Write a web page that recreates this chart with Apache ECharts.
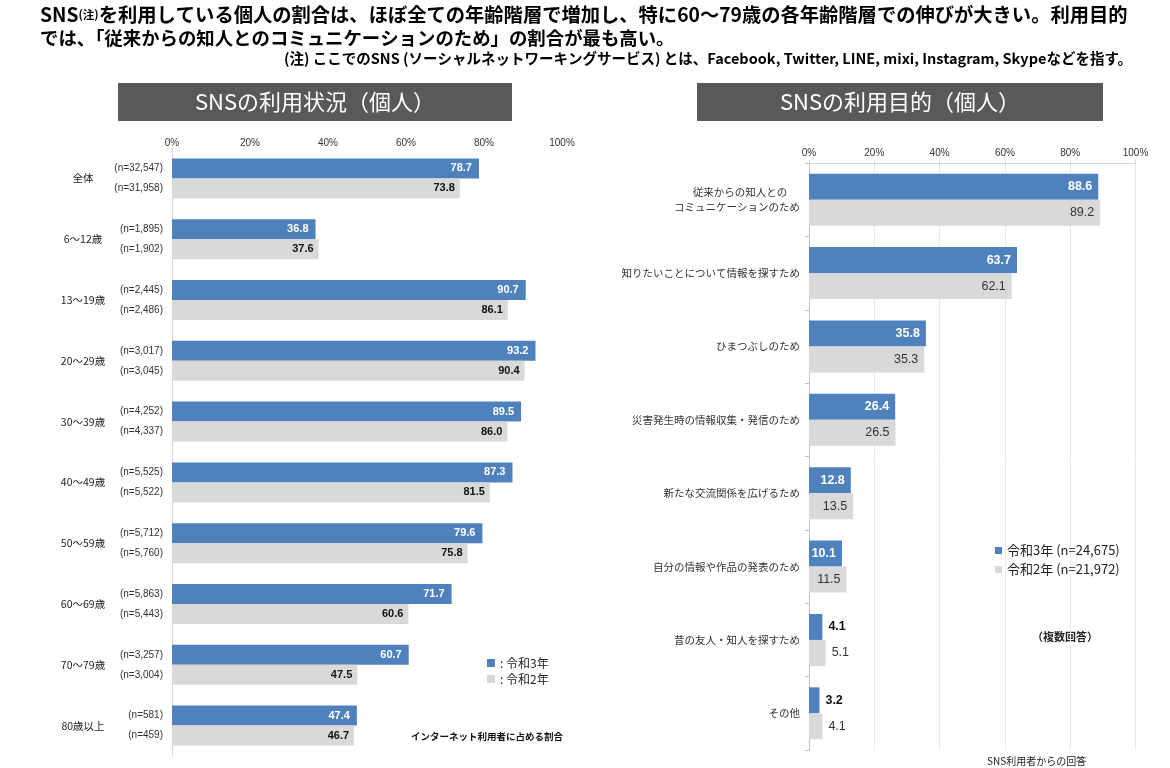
<!DOCTYPE html>
<html><head><meta charset="utf-8">
<script src="https://cdn.jsdelivr.net/npm/echarts@6/dist/echarts.min.js"></script>
<style>html,body{margin:0;padding:0;background:#fff}#c{width:1170px;height:768px}</style>
</head><body><div id="c"></div>
<script>
const ageCats = ['全体','6～12歳','13～19歳','20～29歳','30～39歳','40～49歳','50～59歳','60～69歳','70～79歳','80歳以上'];
const useR3 = [78.7,36.8,90.7,93.2,89.5,87.3,79.6,71.7,60.7,47.4];
const useR2 = [73.8,37.6,86.1,90.4,86.0,81.5,75.8,60.6,47.5,46.7];
const nR3 = ['32,547','1,895','2,445','3,017','4,252','5,525','5,712','5,863','3,257','581'];
const nR2 = ['31,958','1,902','2,486','3,045','4,337','5,522','5,760','5,443','3,004','459'];

const purposeCats = ['従来からの知人との　 \nコミュニケーションのため','知りたいことについて情報を探すため','ひまつぶしのため','災害発生時の情報収集・発信のため','新たな交流関係を広げるため','自分の情報や作品の発表のため','昔の友人・知人を探すため','その他'];
const purR3 = [88.6,63.7,35.8,26.4,12.8,10.1,4.1,3.2];
const purR2 = [89.2,62.1,35.3,26.5,13.5,11.5,5.1,4.1];
const legendN = {'令和3年':'24,675','令和2年':'21,972'};

const BLUE = '#4f81bd', GRAY = '#d9d9d9';
const JP = "'Noto Sans CJK JP', sans-serif";
const AR = "'Liberation Sans', Arial, 'Noto Sans CJK JP', sans-serif";

const chart = echarts.init(document.getElementById('c'));

const option = {
  backgroundColor: '#fff',
  animation: false,
  graphic: [
    {type:'text', left: 40, top: 5, style:{
      rich:{
        a:{fontFamily:JP, fontSize:19.3, fontWeight:'bold', fill:'#000'},
        s:{fontFamily:JP, fontSize:11.5, fontWeight:'bold', fill:'#000'}
      },
      text:'{a|SNS}{s|(注)}{a|を利用している個人の割合は、ほぼ全ての年齢階層で増加し、特に60～79歳の各年齢階層での伸びが大きい。利用目的}'
    }},
    {type:'text', left: 40, top: 29, style:{
      text:'では、「従来からの知人とのコミュニケーションのため」の割合が最も高い。',
      font:"bold 18.4px 'Noto Sans CJK JP', sans-serif", fill:'#000'
    }},
    {type:'text', right: 38, top: 51, style:{
      text:'(注) ここでのSNS (ソーシャルネットワーキングサービス) とは、Facebook, Twitter, LINE, mixi, Instagram, Skypeなどを指す。',
      font:"bold 14.5px 'Noto Sans CJK JP', sans-serif", fill:'#000'
    }},
    {type:'rect', shape:{x:118, y:83, width:394, height:38}, style:{fill:'#595959'}},
    {type:'text', x:315, y:102, style:{text:'SNSの利用状況（個人）', font:"22px 'Noto Sans CJK JP', sans-serif", fill:'#fff', align:'center', verticalAlign:'middle'}},
    {type:'rect', shape:{x:697, y:83, width:406, height:38}, style:{fill:'#595959'}},
    {type:'text', x:900, y:102, style:{text:'SNSの利用目的（個人）', font:"22px 'Noto Sans CJK JP', sans-serif", fill:'#fff', align:'center', verticalAlign:'middle'}},
    {type:'text', x:411, y:736, style:{text:'インターネット利用者に占める割合', font:"bold 9.5px 'Noto Sans CJK JP', sans-serif", fill:'#111', verticalAlign:'middle'}},
    {type:'text', x:1065, y:637, style:{text:'（複数回答）', font:"bold 11px 'Noto Sans CJK JP', sans-serif", fill:'#222', align:'center', verticalAlign:'middle'}},
    {type:'text', x:987, y:761, style:{text:'SNS利用者からの回答', font:"10px 'Noto Sans CJK JP', sans-serif", fill:'#222', verticalAlign:'middle'}}
  ],
  legend: [
    {data:['令和3年','令和2年'], orient:'vertical', left:482, top:652, itemWidth:8, itemHeight:8, itemGap:4,
     icon:'rect', formatter: n => ': ' + n, textStyle:{fontFamily:JP, fontSize:12, color:'#222'}, selectedMode:false},
    {data:['令和3年','令和2年'], orient:'vertical', left:990, top:539, itemWidth:7, itemHeight:7, itemGap:6,
     icon:'rect', formatter: n => n + ' (n=' + legendN[n] + ')', textStyle:{fontFamily:JP, fontSize:13, color:'#222'}, selectedMode:false}
  ],
  grid: [
    {left:172, top:148, width:390, height:608},
    {left:809, top:163, width:326.5, height:587}
  ],
  xAxis: [
    {gridIndex:0, type:'value', position:'top', min:0, max:100, interval:20,
     axisLine:{show:false}, axisTick:{show:false}, splitLine:{show:false},
     axisLabel:{formatter:'{value}%', margin:0, fontFamily:AR, fontSize:10, color:'#333'}},
    {gridIndex:1, type:'value', position:'top', min:0, max:100, interval:20,
     axisLine:{show:true, lineStyle:{color:'#d9d9d9'}}, axisTick:{show:true, length:3, lineStyle:{color:'#d9d9d9'}},
     splitLine:{show:true, lineStyle:{color:'#e4eaf2'}},
     axisLabel:{formatter:'{value}%', margin:5, fontFamily:AR, fontSize:10, color:'#333'}}
  ],
  yAxis: [
    {gridIndex:0, type:'category', data:ageCats, inverse:true,
     axisLine:{lineStyle:{color:'#d9d9d9'}}, axisTick:{show:false},
     axisLabel:{align:'center', margin:89, fontFamily:JP, fontSize:10.5, color:'#222'}},
    {gridIndex:1, type:'category', data:purposeCats, inverse:true,
     axisLine:{lineStyle:{color:'#bfbfbf'}}, axisTick:{show:true, length:4, lineStyle:{color:'#bfbfbf'}},
     axisLabel:{margin:9, fontFamily:JP, fontSize:10.5, color:'#333', lineHeight:15}}
  ],
  series: [
    {name:'n3', type:'bar', xAxisIndex:0, yAxisIndex:0, stack:'a', barWidth:20, barGap:'0%',
     data: useR3.map(() => 0), itemStyle:{color:'rgba(0,0,0,0)'},
     label:{show:true, position:'left', distance:9, formatter: p => '(n=' + nR3[p.dataIndex] + ')', fontFamily:AR, fontSize:10, color:'#333'}},
    {name:'令和3年', type:'bar', xAxisIndex:0, yAxisIndex:0, stack:'a', barWidth:20, barGap:'0%',
     data: useR3, itemStyle:{color:BLUE},
     label:{show:true, position:'insideRight', distance:7, formatter: p => p.value.toFixed(1), fontFamily:AR, fontSize:11, fontWeight:'bold', color:'#fff'}},
    {name:'n2', type:'bar', xAxisIndex:0, yAxisIndex:0, stack:'b', barWidth:20, barGap:'0%',
     data: useR2.map(() => 0), itemStyle:{color:'rgba(0,0,0,0)'},
     label:{show:true, position:'left', distance:9, formatter: p => '(n=' + nR2[p.dataIndex] + ')', fontFamily:AR, fontSize:10, color:'#333'}},
    {name:'令和2年', type:'bar', xAxisIndex:0, yAxisIndex:0, stack:'b', barWidth:20, barGap:'0%',
     data: useR2, itemStyle:{color:GRAY},
     label:{show:true, position:'insideRight', distance:5, formatter: p => p.value.toFixed(1), fontFamily:AR, fontSize:11, fontWeight:'bold', color:'#111'}},
    {name:'令和3年', type:'bar', xAxisIndex:1, yAxisIndex:1, barWidth:26, barGap:'0%',
     data: purR3.map(v => v < 5 ? {value:v, label:{position:'right', distance:6, color:'#111'}} : v), itemStyle:{color:BLUE},
     label:{show:true, position:'insideRight', distance:6, formatter: p => p.value.toFixed(1), fontFamily:AR, fontSize:12.5, fontWeight:'bold', color:'#fff'}},
    {name:'令和2年', type:'bar', xAxisIndex:1, yAxisIndex:1, barWidth:26, barGap:'0%',
     data: purR2.map(v => v < 6 ? {value:v, label:{position:'right', distance:6}} : v), itemStyle:{color:GRAY},
     label:{show:true, position:'insideRight', distance:6, formatter: p => p.value.toFixed(1), fontFamily:AR, fontSize:12.5, color:'#333'}}
  ]
};
chart.setOption(option);
</script></body></html>
